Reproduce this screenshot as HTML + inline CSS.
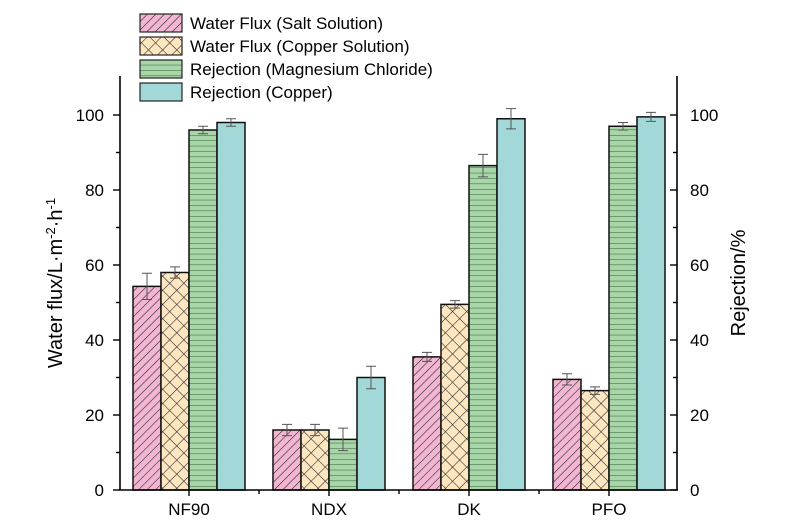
<!DOCTYPE html>
<html><head><style>body{margin:0;background:#fff}svg{display:block}text{font-family:"Liberation Sans",Arial,sans-serif;fill:#000}</style></head><body>
<svg width="800" height="529" viewBox="0 0 800 529" xmlns="http://www.w3.org/2000/svg">
<defs>
<pattern id="pk" width="6" height="6" patternUnits="userSpaceOnUse" patternTransform="rotate(45)"><rect width="6" height="6" fill="#f2b6d2"/><line x1="0" y1="0" x2="0" y2="6" stroke="#222" stroke-width="1.1"/></pattern>
<pattern id="cr" width="10" height="10" patternUnits="userSpaceOnUse" patternTransform="rotate(45)"><rect width="10" height="10" fill="#fde6c0"/><line x1="0" y1="0" x2="0" y2="10" stroke="#222" stroke-width="1.1"/><line x1="0" y1="0" x2="10" y2="0" stroke="#222" stroke-width="1.1"/></pattern>
<pattern id="gr" width="10" height="5.4" patternUnits="userSpaceOnUse"><rect width="10" height="5.4" fill="#a9d6a9"/><line x1="0" y1="0" x2="10" y2="0" stroke="#2f5f3a" stroke-width="1"/></pattern>
</defs>
<g stroke="#222" stroke-width="1.2">
<rect x="140" y="14" width="42" height="18" fill="url(#pk)"/>
<rect x="140" y="37" width="42" height="18" fill="url(#cr)"/>
<rect x="140" y="60" width="42" height="18" fill="url(#gr)"/>
<rect x="140" y="83" width="42" height="18" fill="#a3d8d8"/>
</g>
<g font-size="17">
<text x="190" y="29">Water Flux (Salt Solution)</text>
<text x="190" y="52">Water Flux (Copper Solution)</text>
<text x="190" y="75">Rejection (Magnesium Chloride)</text>
<text x="190" y="98">Rejection (Copper)</text>
</g>
<g stroke="#111" stroke-width="1.5" id="bars"></g>
<g id="err" stroke="#555" stroke-width="1" fill="none"></g>
<g stroke="#000" stroke-width="1.6" fill="none">
<line x1="120" y1="76" x2="120" y2="490"/>
<line x1="677" y1="76" x2="677" y2="490"/>
<line x1="119" y1="490" x2="678" y2="490"/>
</g>
<g id="ticks" stroke="#000" stroke-width="1.4"></g>
<g font-size="17" id="tl"></g>
<g font-size="17" text-anchor="middle">
<text x="189" y="515">NF90</text><text x="329" y="515">NDX</text><text x="469" y="515">DK</text><text x="609" y="515">PFO</text>
</g>
<text font-size="20" transform="translate(62,283) rotate(-90)" text-anchor="middle">Water flux/L·m<tspan font-size="13" dy="-7">-2</tspan><tspan dy="7">·h</tspan><tspan font-size="13" dy="-7">-1</tspan></text>
<text font-size="20" transform="translate(745,283) rotate(-90)" text-anchor="middle">Rejection/%</text>
<script>
var ns="http://www.w3.org/2000/svg";
function el(p,t,a,txt){var e=document.createElementNS(ns,t);for(var k in a)e.setAttribute(k,a[k]);if(txt)e.textContent=txt;document.getElementById(p).appendChild(e);}
var Y=function(v){return 490-v*3.75};
var d=[[[54.3,3.5],[58,1.5],[96,1],[98,1]],[[16,1.5],[16,1.5],[13.5,3],[30,3]],[[35.5,1.2],[49.5,1],[86.5,3],[99,2.7]],[[29.5,1.5],[26.5,1],[97,1],[99.5,1.2]]];
var f=["url(#pk)","url(#cr)","url(#gr)","#a3d8d8"];
for(var g=0;g<4;g++)for(var i=0;i<4;i++){var x=133+g*140+i*28,v=d[g][i][0],e=d[g][i][1];
el("bars","rect",{x:x,y:Y(v),width:28,height:Y(0)-Y(v),fill:f[i]});
var c=x+14;el("err","path",{d:"M"+c+" "+Y(v+e)+"V"+Y(v-e)+"M"+(c-5)+" "+Y(v+e)+"h10M"+(c-5)+" "+Y(v-e)+"h10"});}
for(var v=0;v<=100;v+=10){var y=Y(v),L=v%20==0?7:4;
el("ticks","line",{x1:120-L,y1:y,x2:120,y2:y});el("ticks","line",{x1:677-L,y1:y,x2:677,y2:y});
if(v%20==0){el("tl","text",{x:104,y:y+6,"text-anchor":"end"},""+v);el("tl","text",{x:690,y:y+6},""+v);}}
[189,329,469,609].forEach(function(x){el("ticks","line",{x1:x,y1:490,x2:x,y2:496});});
[259,399,539].forEach(function(x){el("ticks","line",{x1:x,y1:490,x2:x,y2:494});});
</script>
</svg>
</body></html>
